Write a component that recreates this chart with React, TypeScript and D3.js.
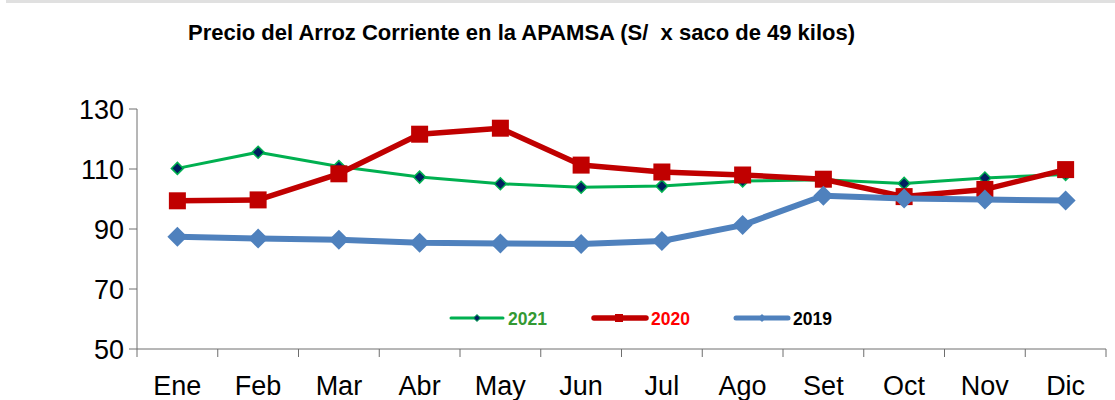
import React from "react";
import * as d3 from "d3";

const months = ["Ene", "Feb", "Mar", "Abr", "May", "Jun", "Jul", "Ago", "Set", "Oct", "Nov", "Dic"];
const s2021 = [110.2, 115.6, 110.8, 107.3, 105.1, 103.9, 104.3, 106.0, 106.4, 105.2, 107.0, 108.2];
const s2020 = [99.4, 99.7, 108.4, 121.6, 123.6, 111.3, 109.0, 108.0, 106.6, 100.8, 103.2, 109.8];
const s2019 = [87.4, 86.8, 86.4, 85.4, 85.2, 85.0, 86.0, 91.3, 101.1, 100.2, 99.8, 99.5];
const yTicks = [50, 70, 90, 110, 130];
const title = "Precio del Arroz Corriente en la APAMSA (S/\u00a0 x saco de 49 kilos)";

const FONT = "'Liberation Sans', Arial, sans-serif";

export default function App() {
  const W = 1115, H = 400;
  const x = d3.scaleBand<string>().domain(months).range([137, 1106]);
  const y = d3.scaleLinear().domain([50, 130]).range([349, 109]);
  const cx = (m: string) => (x(m) as number) + x.bandwidth() / 2;
  const line = d3.line<number>().x((_, i) => cx(months[i])).y((v) => y(v));
  const bounds = months.map((m) => x(m) as number).concat([x.range()[1]]);

  const diamond = (px: number, py: number, r: number) =>
    `M${px},${py - r}L${px + r},${py}L${px},${py + r}L${px - r},${py}Z`;

  const green = "#00B050", red = "#C00000", blue = "#4F81BD", navy = "#002060";

  return (
    <div style={{ position: "fixed", left: 0, top: 0, width: W, height: H, background: "#fff" }}>
      <svg width={W} height={H} style={{ display: "block" }}>
        <rect x={6} y={0} width={W - 6} height={3} fill="#e0e0e0" />
        <text x={188} y={40} fontFamily={FONT} fontWeight="bold" fontSize={22} fill="#000"
          textLength={667} lengthAdjust="spacingAndGlyphs">
          {title}
        </text>
        {/* axes */}
        <line x1={137} x2={137} y1={y(130)} y2={y(50)} stroke="#6e6e6e" strokeWidth={1} />
        <line x1={137} x2={1106} y1={y(50)} y2={y(50)} stroke="#6e6e6e" strokeWidth={1} />
        {yTicks.map((t) => (
          <g key={t}>
            <line x1={129} x2={137} y1={y(t)} y2={y(t)} stroke="#6e6e6e" />
            <text x={124} y={y(t) + 9.5} textAnchor="end" fontFamily={FONT} fontSize={27} fill="#000">
              {t}
            </text>
          </g>
        ))}
        {bounds.map((b, i) => (
          <line key={i} x1={b} x2={b} y1={y(50)} y2={y(50) + 8} stroke="#6e6e6e" />
        ))}
        {months.map((m) => (
          <text key={m} x={cx(m)} y={395} textAnchor="middle" fontFamily={FONT} fontSize={27} fill="#000">
            {m}
          </text>
        ))}
        {/* 2021 */}
        <path d={line(s2021) || ""} fill="none" stroke={green} strokeWidth={3} strokeLinejoin="round" />
        {s2021.map((v, i) => (
          <path key={i} d={diamond(cx(months[i]), y(v), 6)} fill={navy} stroke={green} strokeWidth={1.5} />
        ))}
        {/* 2020 */}
        <path d={line(s2020) || ""} fill="none" stroke={red} strokeWidth={5.5} strokeLinejoin="round" />
        {s2020.map((v, i) => (
          <rect key={i} x={cx(months[i]) - 8.5} y={y(v) - 8.5} width={17} height={17} fill={red} />
        ))}
        {/* 2019 */}
        <path d={line(s2019) || ""} fill="none" stroke={blue} strokeWidth={6} strokeLinejoin="round" />
        {s2019.map((v, i) => (
          <path key={i} d={diamond(cx(months[i]), y(v), 10)} fill={blue} />
        ))}
        {/* legend */}
        <line x1={451} x2={503} y1={318} y2={318} stroke={green} strokeWidth={3} strokeLinecap="round" />
        <path d={diamond(477, 318, 3.5)} fill={navy} stroke={green} strokeWidth={1} />
        <text x={508} y={325} fontFamily={FONT} fontWeight="bold" fontSize={17.5} fill="#339933">2021</text>
        <line x1={594} x2={646} y1={318} y2={318} stroke={red} strokeWidth={5.5} strokeLinecap="round" />
        <rect x={615} y={314} width={8} height={8} fill={red} />
        <text x={651} y={325} fontFamily={FONT} fontWeight="bold" fontSize={17.5} fill="#FF0000">2020</text>
        <line x1={736} x2={788} y1={318} y2={318} stroke={blue} strokeWidth={5} strokeLinecap="round" />
        <path d={diamond(762, 318, 4)} fill={blue} />
        <text x={793} y={325} fontFamily={FONT} fontWeight="bold" fontSize={17.5} fill="#000">2019</text>
      </svg>
    </div>
  );
}
